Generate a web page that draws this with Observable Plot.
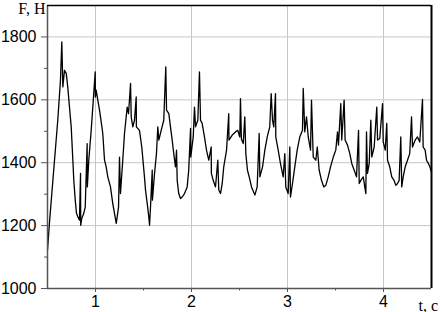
<!DOCTYPE html>
<html>
<head>
<meta charset="utf-8">
<script src="https://cdn.jsdelivr.net/npm/d3@7"></script>
<script src="https://cdn.jsdelivr.net/npm/@observablehq/plot@0.6"></script>
<style>
  html, body { margin: 0; padding: 0; background: #fff; }
  #chart svg { display: block; }
</style>
</head>
<body>
<div id="chart"></div>
<script>
const times = [
  0.5, 0.52, 0.573, 0.607, 0.635, 0.649, 0.66, 0.677, 0.695, 0.711, 0.729, 0.747, 0.764, 0.774, 0.789, 0.802, 0.816, 0.833, 0.844, 0.846,
  0.857, 0.878, 0.893, 0.913, 0.915, 0.93, 0.955, 0.972, 0.997, 0.999, 1.007, 1.024, 1.042, 1.052, 1.076, 1.094, 1.111, 1.128, 1.156, 1.18,
  1.198, 1.216, 1.226, 1.24, 1.25, 1.26, 1.284, 1.302, 1.33, 1.344, 1.365, 1.372, 1.389, 1.406, 1.424, 1.426, 1.458, 1.482, 1.51, 1.521,
  1.539, 1.555, 1.563, 1.573, 1.591, 1.593, 1.615, 1.635, 1.649, 1.66, 1.684, 1.711, 1.732, 1.74, 1.764, 1.781, 1.799, 1.815, 1.833, 1.844,
  1.851, 1.867, 1.885, 1.903, 1.927, 1.955, 1.971, 1.99, 1.992, 2.018, 2.031, 2.042, 2.066, 2.083, 2.094, 2.111, 2.135, 2.156, 2.18, 2.205,
  2.207, 2.226, 2.25, 2.274, 2.284, 2.302, 2.32, 2.336, 2.365, 2.388, 2.39, 2.424, 2.458, 2.482, 2.503, 2.51, 2.52, 2.539, 2.555, 2.566,
  2.583, 2.601, 2.625, 2.66, 2.684, 2.705, 2.712, 2.74, 2.764, 2.789, 2.815, 2.83, 2.844, 2.857, 2.875, 2.878, 2.903, 2.927, 2.955, 2.972,
  2.982, 3.007, 3.024, 3.031, 3.052, 3.076, 3.101, 3.128, 3.156, 3.164, 3.18, 3.198, 3.216, 3.24, 3.25, 3.268, 3.295, 3.31, 3.33, 3.354,
  3.378, 3.399, 3.424, 3.448, 3.477, 3.503, 3.521, 3.531, 3.555, 3.565, 3.59, 3.6, 3.625, 3.649, 3.67, 3.695, 3.719, 3.74, 3.747, 3.764,
  3.789, 3.816, 3.823, 3.833, 3.851, 3.868, 3.878, 3.903, 3.93, 3.938, 3.961, 3.99, 3.997, 4.018, 4.034, 4.042, 4.065, 4.086, 4.11, 4.128,
  4.146, 4.163, 4.18, 4.19, 4.205, 4.226, 4.25, 4.273, 4.292, 4.302, 4.33, 4.354, 4.378, 4.406, 4.413, 4.434, 4.448, 4.469, 4.483, 4.5
];
const forces = [
  1122, 1207, 1408, 1535, 1662, 1784, 1641, 1694, 1684, 1641, 1577, 1514, 1408, 1344, 1281, 1239, 1228, 1217, 1366, 1201,
  1223, 1239, 1259, 1461, 1323, 1408, 1503, 1577, 1689, 1609, 1631, 1599, 1567, 1546, 1493, 1408, 1387, 1355, 1323, 1270,
  1239, 1207, 1228, 1259, 1418, 1302, 1408, 1493, 1577, 1556, 1652, 1546, 1514, 1535, 1609, 1514, 1503, 1450, 1355, 1313,
  1270, 1228, 1201, 1259, 1376, 1281, 1366, 1429, 1514, 1472, 1503, 1535, 1705, 1567, 1556, 1514, 1472, 1429, 1387, 1440,
  1344, 1302, 1286, 1291, 1302, 1323, 1376, 1509, 1418, 1482, 1577, 1514, 1535, 1689, 1535, 1525, 1482, 1440, 1408, 1450,
  1366, 1344, 1323, 1408, 1313, 1302, 1334, 1387, 1440, 1556, 1472, 1488, 1498, 1503, 1482, 1604, 1475, 1461, 1546, 1429,
  1376, 1355, 1323, 1297, 1323, 1493, 1355, 1387, 1440, 1482, 1514, 1620, 1535, 1514, 1620, 1482, 1440, 1397, 1355, 1429,
  1323, 1302, 1450, 1291, 1334, 1387, 1440, 1482, 1503, 1636, 1498, 1546, 1482, 1440, 1599, 1418, 1408, 1450, 1376, 1344,
  1323, 1328, 1355, 1387, 1418, 1440, 1498, 1456, 1588, 1472, 1599, 1472, 1456, 1429, 1397, 1376, 1355, 1503, 1334, 1344,
  1355, 1302, 1498, 1366, 1397, 1535, 1418, 1450, 1577, 1472, 1477, 1588, 1466, 1440, 1525, 1408, 1387, 1355, 1344, 1328,
  1334, 1344, 1482, 1323, 1355, 1387, 1408, 1429, 1546, 1450, 1472, 1482, 1466, 1601, 1450, 1440, 1408, 1397, 1387, 1370
];
const yMajorTicks = [1000, 1200, 1400, 1600, 1800];
const yMinorTicks = [1100, 1300, 1500, 1700];
const xMajorTicks = [1, 2, 3, 4];
const xMinorTicks = [1.5, 2.5, 3.5];
const yAxisLabel = "F, H";
const xAxisLabel = "t, c";

const data = times.map((t, i) => ({t, f: forces[i]}));
const tickFont = "'Liberation Sans', Arial, sans-serif";
const labelFont = "'Liberation Serif', 'Times New Roman', serif";

const chart = Plot.plot({
  width: 442,
  height: 312,
  marginLeft: 47,
  marginRight: 11,
  marginTop: 5,
  marginBottom: 24,
  style: {fontFamily: tickFont, fontSize: "16px", background: "#fff", color: "#000"},
  x: {domain: [0.5, 4.5]},
  y: {domain: [1000, 1900]},
  marks: [
    Plot.gridY([1200, 1400, 1600, 1800], {stroke: "#c6c6c6", strokeOpacity: 1}),
    Plot.gridX(xMajorTicks, {stroke: "#c6c6c6", strokeOpacity: 1}),
    Plot.line(data, {x: "t", y: "f", stroke: "#000", strokeWidth: 1.3}),
    Plot.ruleX([0.5], {stroke: "#555", strokeWidth: 1.5}),
    Plot.ruleY([1000], {stroke: "#555", strokeWidth: 1.5}),
    Plot.ruleY([1900], {stroke: "#000", strokeWidth: 1.5}),
    Plot.ruleX([4.5], {stroke: "#000", strokeWidth: 2}),
    Plot.axisY(yMajorTicks, {tickSize: 6, tickPadding: 5, tickFormat: d => String(d), label: null, stroke: "#555", fill: "#000", fontSize: 16}),
    Plot.axisY(yMinorTicks, {tickSize: 3, tickFormat: null, text: null, label: null, stroke: "#555"}),
    Plot.axisX(xMajorTicks, {tickSize: 4, tickPadding: 3, tickFormat: d => String(d), label: null, stroke: "#555", fill: "#000", fontSize: 16}),
    Plot.axisX(xMinorTicks, {tickSize: 2.5, tickFormat: null, text: null, label: null, stroke: "#555"}),
    Plot.text([yAxisLabel], {x: 0.5, y: 1900, text: d => d, textAnchor: "end", lineAnchor: "bottom", dx: -2, dy: 8, fontFamily: labelFont, fontSize: 16, fill: "#000"}),
    Plot.text([xAxisLabel], {x: 4.5, y: 1000, text: d => d, textAnchor: "start", lineAnchor: "bottom", dx: -13, dy: 22, fontFamily: labelFont, fontSize: 16, fill: "#000"})
  ]
});
document.getElementById("chart").appendChild(chart);
</script>
</body>
</html>
